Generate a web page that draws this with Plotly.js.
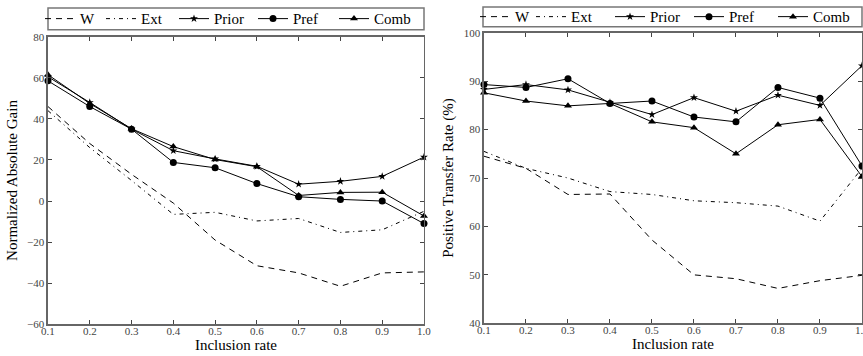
<!DOCTYPE html>
<html>
<head>
<meta charset="utf-8">
<script src="https://cdn.plot.ly/plotly-3.0.1.min.js"></script>
<style>html,body{margin:0;padding:0;background:#fff;}#chart{width:863px;height:356px;}</style>
</head>
<body>
<div id="chart"></div>
<script>
// Inclusion rates (x)
const inclusionRate = [0.1, 0.2, 0.3, 0.4, 0.5, 0.6, 0.7, 0.8, 0.9, 1.0];

// Left panel: Normalized Absolute Gain
const gainW     = [46, 28, 13, -1, -19, -31.5, -35, -41.5, -35, -34.5];
const gainExt   = [44, 26, 10, -6.5, -5.5, -9.7, -8.5, -15.3, -14, -5];
const gainPrior = [60.5, 48, 35, 24.5, 20.5, 16.9, 8.2, 9.6, 12, 21.4];
const gainPref  = [58.5, 46, 35, 18.8, 16.2, 8.5, 2.1, 0.8, 0, -11];
const gainComb  = [61.5, 47.5, 35.2, 26.5, 20.2, 16.7, 2.7, 4.2, 4.3, -7.3];

// Right panel: Positive Transfer Rate (%)
const ptrW     = [74.5, 72, 66.6, 66.7, 57.2, 50, 49.2, 47.2, 48.8, 49.9];
const ptrExt   = [75.5, 72, 70, 67.2, 66.6, 65.3, 64.9, 64.2, 61.1, 72];
const ptrPrior = [88.3, 89.3, 88.2, 85.6, 83.1, 86.6, 83.8, 87.1, 85.0, 93.2];
const ptrPref  = [89.3, 88.7, 90.5, 85.4, 85.9, 82.6, 81.6, 88.7, 86.5, 72.5];
const ptrComb  = [87.6, 85.9, 84.9, 85.4, 81.6, 80.4, 75.0, 81.0, 82.1, 70.3];

const seriesNames = ['W', 'Ext', 'Prior', 'Pref', 'Comb'];
const xTicks = [0.1, 0.2, 0.3, 0.4, 0.5, 0.6, 0.7, 0.8, 0.9, 1.0];
const xTickText = ['0.1', '0.2', '0.3', '0.4', '0.5', '0.6', '0.7', '0.8', '0.9', '1.0'];
const yTicksLeft = [-60, -40, -20, 0, 20, 40, 60, 80];
const yTicksLeftText = ['\u221260', '\u221240', '\u221220', '0', '20', '40', '60', '80'];
const yTicksRight = [40, 50, 60, 70, 80, 90, 100];

const FONT = '"Liberation Serif", "DejaVu Serif", serif';
const W = 863, H = 356;

const styles = [
  {line: {color: '#000', width: 1, dash: '6px,5px'}, mode: 'lines'},
  {line: {color: '#000', width: 1, dash: '4px,4px,1px,4px'}, mode: 'lines'},
  {line: {color: '#000', width: 1}, mode: 'lines+markers', marker: {symbol: 'star', size: 6, color: '#000'}},
  {line: {color: '#000', width: 1}, mode: 'lines+markers', marker: {symbol: 'circle', size: 7, color: '#000'}},
  {line: {color: '#000', width: 1}, mode: 'lines+markers', marker: {symbol: 'triangle-up', size: 7, color: '#000'}}
];

// legend entry positions (left edge of each legend item, px) and row centre (px)
const legendLeftX = [40, 101, 174, 253, 334];
const legendRightX = [475, 531, 610, 689, 773];
const legendLeftY = 16, legendRightY = 14;

const leftData = [gainW, gainExt, gainPrior, gainPref, gainComb];
const rightData = [ptrW, ptrExt, ptrPrior, ptrPref, ptrComb];

const legendCommon = {
  orientation: 'h', xanchor: 'left', yanchor: 'middle',
  borderwidth: 0, bgcolor: 'rgba(0,0,0,0)',
  font: {family: FONT, size: 15, color: '#000'},
  itemwidth: 30
};

const traces = [];
const legends = {};
leftData.forEach((ys, i) => {
  const key = i === 0 ? 'legend' : 'legend' + (i + 1);
  traces.push(Object.assign({
    type: 'scatter', x: inclusionRate, y: ys, name: seriesNames[i],
    xaxis: 'x', yaxis: 'y', legend: key, cliponaxis: false
  }, JSON.parse(JSON.stringify(styles[i]))));
  legends[key] = Object.assign({}, legendCommon, {x: legendLeftX[i] / W, y: 1 - legendLeftY / H});
});
rightData.forEach((ys, i) => {
  const key = 'legend' + (i + 6);
  traces.push(Object.assign({
    type: 'scatter', x: inclusionRate, y: ys, name: seriesNames[i],
    xaxis: 'x2', yaxis: 'y2', legend: key, cliponaxis: false
  }, JSON.parse(JSON.stringify(styles[i]))));
  legends[key] = Object.assign({}, legendCommon, {x: legendRightX[i] / W, y: 1 - legendRightY / H});
});

const axisCommon = {
  showgrid: false, zeroline: false, showline: true, mirror: 'ticks',
  linecolor: '#666', linewidth: 1.5, ticks: 'inside', ticklen: 4,
  tickcolor: '#444', tickwidth: 1, automargin: false,
  ticklabeloverflow: 'allow',
  tickfont: {family: FONT, size: 11, color: '#444'}
};

function box(x0, x1, y0, y1) {
  return {type: 'rect', xref: 'paper', yref: 'paper',
    x0: x0 / W, x1: x1 / W, y0: 1 - y1 / H, y1: 1 - y0 / H,
    line: {color: '#777', width: 1.5}, fillcolor: '#fff', layer: 'above'};
}

const layout = Object.assign({
  width: W, height: H,
  margin: {l: 0, r: 0, t: 0, b: 0},
  paper_bgcolor: '#fff', plot_bgcolor: '#fff',
  font: {family: FONT, color: '#000'},
  xaxis: Object.assign({}, axisCommon, {
    domain: [0.0556, 0.4913], range: [0.1, 1.0], anchor: 'y',
    tickvals: xTicks, ticktext: xTickText, ticklabelstandoff: -4,
    title: {text: 'Inclusion rate', font: {family: FONT, size: 15, color: '#000'}, standoff: 0}
  }),
  yaxis: Object.assign({}, axisCommon, {
    domain: [0.0899, 0.9045], range: [-60, 80], anchor: 'x',
    tickvals: yTicksLeft, ticktext: yTicksLeftText,
    title: {text: 'Normalized Absolute Gain', font: {family: FONT, size: 15, color: '#000'}, standoff: 6}
  }),
  xaxis2: Object.assign({}, axisCommon, {
    domain: [0.5608, 0.9988], range: [0.1, 1.0], anchor: 'y2',
    tickvals: xTicks, ticktext: xTickText, ticklabelstandoff: -4,
    title: {text: 'Inclusion rate', font: {family: FONT, size: 15, color: '#000'}, standoff: 0}
  }),
  yaxis2: Object.assign({}, axisCommon, {
    domain: [0.0927, 0.9157], range: [40, 100], anchor: 'x2',
    tickvals: yTicksRight,
    title: {text: 'Positive Transfer Rate (%)', font: {family: FONT, size: 15, color: '#000'}, standoff: 6}
  }),
  shapes: [box(48, 424, 5, 27), box(483, 862, 4, 24)],
  showlegend: true
}, legends);

Plotly.newPlot('chart', traces, layout, {displayModeBar: false, staticPlot: true});
</script>
</body>
</html>
